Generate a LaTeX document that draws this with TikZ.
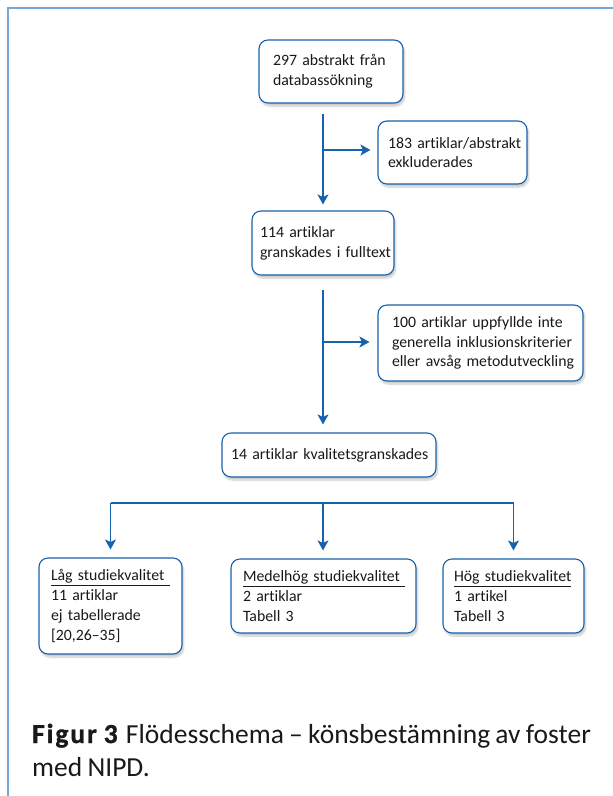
\documentclass[tikz,border=0pt]{standalone}
\usepackage{fontspec}
\setmainfont[Ligatures=CommonOff,WordSpace=0.85]{Carlito}
\usetikzlibrary{arrows.meta,shadows.blur}
\definecolor{lineblue}{RGB}{22,98,172}
\definecolor{frameblue}{RGB}{118,168,214}
\definecolor{textdark}{RGB}{25,25,25}
\begin{document}
\begin{tikzpicture}[x=1pt,y=-1pt,
  box/.style={draw=lineblue, line width=1.1pt, rounded corners=9pt, fill=white,
    align=left, inner ysep=0pt, text=textdark,
    font=\fontsize{15.8}{19.8}\selectfont,
    blur shadow={shadow blur steps=8, shadow xshift=1.5pt, shadow yshift=-3pt, shadow opacity=22}},
  conn/.style={draw=lineblue, line width=1.2pt},
  arr/.style={conn, -{Stealth[length=10pt,width=11pt,inset=2.5pt]}},
  captxt/.style={anchor=base west, inner sep=0pt, text=textdark, font=\fontsize{27.5}{33}\selectfont}]
\useasboundingbox (0,0) rectangle (613,796);
% frame
\draw[frameblue, line width=2pt] (7.5,796) -- (7.5,8) -- (613,8);
% boxes
\node[box, inner xsep=14pt, text width=116pt, minimum height=63pt] (b1) at (331,71.5) {\mbox{297 abstrakt från}\\databassökning};
\node[box, inner xsep=10pt, text width=129pt, minimum height=63pt] (b2) at (452.5,152.5) {\mbox{183 artiklar/abstrakt}\\exkluderades};
\node[box, inner xsep=8pt, text width=126pt, minimum height=64pt] (b3) at (323,243) {\mbox{114 artiklar}\\\mbox{granskades i fulltext}};
\node[box, inner xsep=14pt, text width=177pt, minimum height=76pt] (b4) at (480.5,343) {\mbox{100 artiklar uppfyllde inte}\\\mbox{generella inklusionskriterier}\\\mbox{eller avsåg metodutveckling}};
\node[box, inner xsep=9pt, text width=196pt, minimum height=44pt] (b5) at (329,455) {\mbox{14 artiklar kvalitetsgranskades}};
\node[box, inner xsep=12pt, text width=119pt, minimum height=96pt] (b6) at (110.5,606) {\underline{Låg studiekvalitet\ }\\\mbox{11 artiklar}\\\mbox{ej tabellerade}\\{[20,26–35]}};
\node[box, inner xsep=12pt, text width=161pt, minimum height=74pt] (b7) at (323.5,596) {\underline{Medelhög studiekvalitet\ }\\\mbox{2 artiklar}\\\mbox{Tabell 3}};
\node[box, inner xsep=11pt, text width=119pt, minimum height=74pt] (b8) at (513.5,596) {\underline{Hög studiekvalitet}\\\mbox{1 artikel}\\\mbox{Tabell 3}};
% junctions
\coordinate (j1) at (323,150);
\coordinate (j2) at (323,342);
\coordinate (hb) at (323,503);
% connectors
\draw[arr, shorten <=10pt, shorten >=6pt] (b3.north |- b1.south) -- (b3.north);
\draw[arr, shorten >=7pt] (j1) -- (b2.west |- j1);
\draw[arr, shorten <=14pt, shorten >=8pt] (b3.south) -- (b3.south |- b5.north);
\draw[arr, shorten >=8pt] (j2) -- (b4.west |- j2);
\draw[conn] (b6.north |- hb) -- (b8.north |- hb);
\draw[arr, shorten >=8pt] (b6.north |- hb) -- (b6.north);
\draw[arr, shorten >=8pt] (hb) -- (hb |- b7.north);
\draw[arr, shorten >=8pt] (b8.north |- hb) -- (b8.north);
% caption
\node[captxt] (cap1) at (32,743) {{\bfseries\addfontfeatures{LetterSpace=7,FakeBold=1.2}Figur 3}\kern3pt\ Flödesschema – könsbestämning av foster};
\node[captxt] (cap2) at (32,776) {med NIPD.};
\end{tikzpicture}
\end{document}
